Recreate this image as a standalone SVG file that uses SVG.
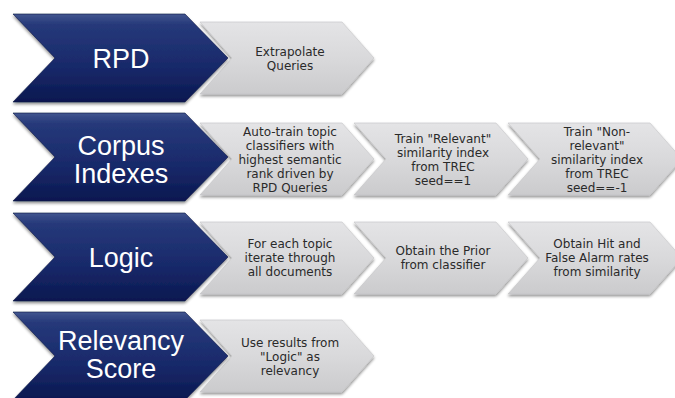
<svg xmlns="http://www.w3.org/2000/svg" width="675" height="398" viewBox="0 0 675 398">
<defs>
<linearGradient id="gd" x1="0" y1="0" x2="0" y2="1">
<stop offset="0" stop-color="#42568f"/>
<stop offset="0.12" stop-color="#26397a"/>
<stop offset="0.6" stop-color="#18296a"/>
<stop offset="1" stop-color="#0b1850"/>
</linearGradient>
<linearGradient id="gg" x1="0" y1="0" x2="0" y2="1">
<stop offset="0" stop-color="#e4e4e6"/>
<stop offset="0.5" stop-color="#d9d9db"/>
<stop offset="1" stop-color="#cbcbcd"/>
</linearGradient>
<filter id="sh" x="-10%" y="-10%" width="120%" height="130%">
<feGaussianBlur in="SourceAlpha" stdDeviation="1.5"/>
<feOffset dx="0" dy="2" result="b"/>
<feComponentTransfer><feFuncA type="linear" slope="0.45"/></feComponentTransfer>
<feMerge><feMergeNode/><feMergeNode in="SourceGraphic"/></feMerge>
</filter>
</defs>
<style>
.dk{fill:url(#gd);stroke:#0a1545;stroke-width:0.6;filter:url(#sh)}
.gr{fill:url(#gg);stroke:#c4c4c6;stroke-width:0.6;filter:url(#sh)}
.lb{font-family:"Liberation Sans",Arial,sans-serif;font-size:27px;fill:#ffffff;text-anchor:middle}
.tx{font-family:"DejaVu Sans",sans-serif;font-size:12px;fill:#2a2a2a;text-anchor:middle}
</style>
<rect width="675" height="398" fill="#ffffff"/>

<!-- Row 1 -->
<g id="rpd-step">
<path class="gr" d="M200,22 L342,22 L374,58 L342,94 L200,94 L232,58 Z"/>
<text class="tx"><tspan x="290" y="56">Extrapolate</tspan><tspan x="290" y="70">Queries</tspan></text>
</g>
<g id="rpd">
<path class="dk" d="M13,14 L185,14 L228,58 L185,102 L13,102 L55,58 Z"/>
<text class="lb" x="121" y="68">RPD</text>
</g>

<!-- Row 2 -->
<g id="corpus-step3">
<path class="gr" d="M508,123 L650,123 L682,159 L650,195 L508,195 L540,159 Z"/>
<text class="tx"><tspan x="597" y="136">Train "Non-</tspan><tspan x="597" y="150">relevant"</tspan><tspan x="597" y="164">similarity index</tspan><tspan x="597" y="178">from TREC</tspan><tspan x="597" y="192">seed==-1</tspan></text>
</g>
<g id="corpus-step2">
<path class="gr" d="M354,123 L496,123 L528,159 L496,195 L354,195 L386,159 Z"/>
<text class="tx"><tspan x="443" y="143">Train "Relevant"</tspan><tspan x="443" y="157">similarity index</tspan><tspan x="443" y="171">from TREC</tspan><tspan x="443" y="185">seed==1</tspan></text>
</g>
<g id="corpus-step1">
<path class="gr" d="M200,123 L342,123 L374,159 L342,195 L200,195 L232,159 Z"/>
<text class="tx"><tspan x="290" y="136">Auto-train topic</tspan><tspan x="290" y="150">classifiers with</tspan><tspan x="290" y="164">highest semantic</tspan><tspan x="290" y="178">rank driven by</tspan><tspan x="290" y="192">RPD Queries</tspan></text>
</g>
<g id="corpus-indexes">
<path class="dk" d="M13,113 L185,113 L228,157 L185,201 L13,201 L55,157 Z"/>
<text class="lb"><tspan x="121" y="155">Corpus</tspan><tspan x="121" y="183">Indexes</tspan></text>
</g>

<!-- Row 3 -->
<g id="logic-step3">
<path class="gr" d="M508,222 L650,222 L682,258 L650,294 L508,294 L540,258 Z"/>
<text class="tx"><tspan x="597" y="248">Obtain Hit and</tspan><tspan x="597" y="262">False Alarm rates</tspan><tspan x="597" y="276">from similarity</tspan></text>
</g>
<g id="logic-step2">
<path class="gr" d="M354,222 L496,222 L528,258 L496,294 L354,294 L386,258 Z"/>
<text class="tx"><tspan x="443" y="255">Obtain the Prior</tspan><tspan x="443" y="269">from classifier</tspan></text>
</g>
<g id="logic-step1">
<path class="gr" d="M200,222 L342,222 L374,258 L342,294 L200,294 L232,258 Z"/>
<text class="tx"><tspan x="290" y="248">For each topic</tspan><tspan x="290" y="262">iterate through</tspan><tspan x="290" y="276">all documents</tspan></text>
</g>
<g id="logic">
<path class="dk" d="M13,213 L185,213 L228,257 L185,301 L13,301 L55,257 Z"/>
<text class="lb" x="121" y="267">Logic</text>
</g>

<!-- Row 4 -->
<g id="relevancy-step">
<path class="gr" d="M200,320 L342,320 L374,356 L342,392 L200,392 L232,356 Z"/>
<text class="tx"><tspan x="290" y="347">Use results from</tspan><tspan x="290" y="361">"Logic" as</tspan><tspan x="290" y="375">relevancy</tspan></text>
</g>
<g id="relevancy-score">
<path class="dk" d="M13,312 L185,312 L228,356 L185,400 L13,400 L55,356 Z"/>
<text class="lb"><tspan x="121" y="350">Relevancy</tspan><tspan x="121" y="378">Score</tspan></text>
</g>
</svg>
